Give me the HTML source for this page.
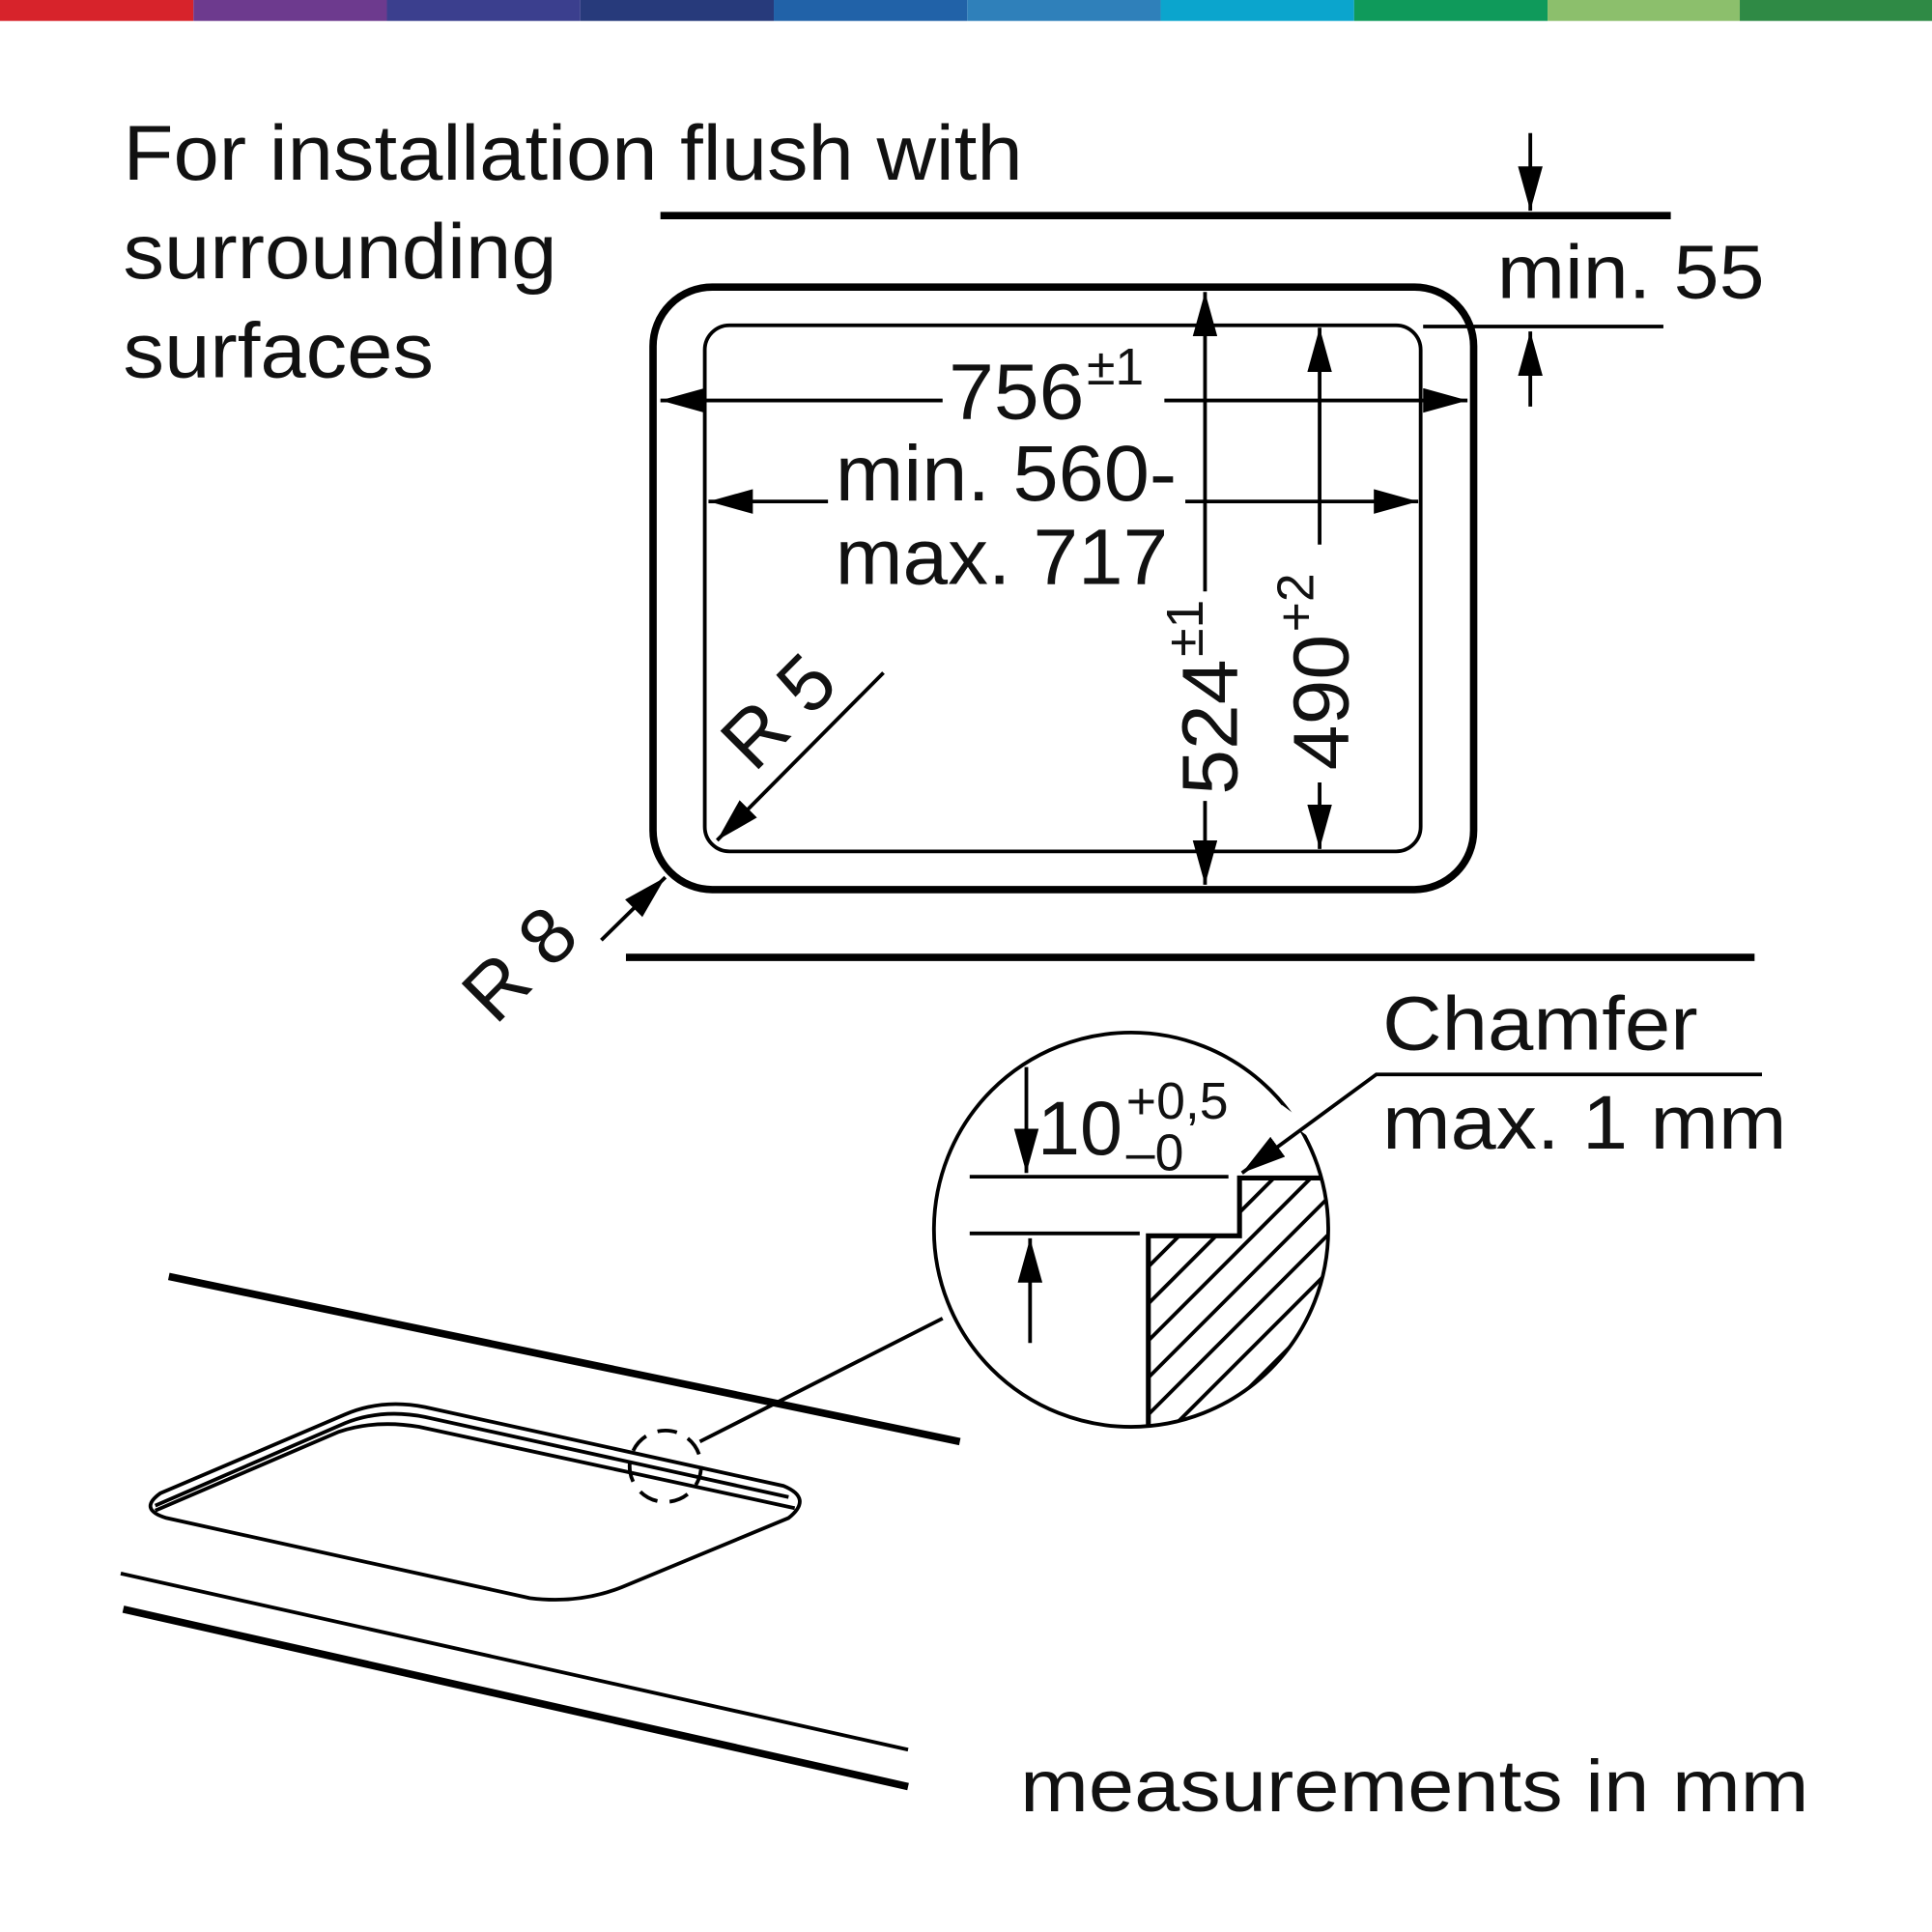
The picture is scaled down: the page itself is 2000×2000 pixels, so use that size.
<!DOCTYPE html>
<html><head><meta charset="utf-8"><style>
html,body{margin:0;padding:0;background:#fff}
svg{display:block}
text{font-family:"Liberation Sans",Arial,sans-serif;fill:#111}
</style></head><body>
<svg width="2000" height="2000" viewBox="0 0 1568 1568" xmlns="http://www.w3.org/2000/svg">
<defs>
<marker id="b" viewBox="0 0 36 20" refX="36" refY="10" markerWidth="36" markerHeight="20" markerUnits="userSpaceOnUse" orient="auto-start-reverse">
<path d="M0,0 L36,10 L0,20 Z" fill="#000"/></marker>
<clipPath id="c"><circle cx="918" cy="998" r="160"/></clipPath>
<clipPath id="h"><path d="M932,1003 L1006,1003 L1006,956 L1100,956 L1100,1200 L932,1200 Z"/></clipPath>
</defs>
<rect x="0" y="0" width="157" height="17" fill="#d7232b"/>
<rect x="157" y="0" width="157" height="17" fill="#6d3a8e"/>
<rect x="314" y="0" width="157" height="17" fill="#3b3f8e"/>
<rect x="471" y="0" width="157" height="17" fill="#273a7b"/>
<rect x="628" y="0" width="157" height="17" fill="#2162a8"/>
<rect x="785" y="0" width="157" height="17" fill="#2f80ba"/>
<rect x="942" y="0" width="157" height="17" fill="#0ba5cd"/>
<rect x="1099" y="0" width="157" height="17" fill="#0f9a5b"/>
<rect x="1256" y="0" width="156" height="17" fill="#8cbf6c"/>
<rect x="1412" y="0" width="156" height="17" fill="#2f8a45"/>

<text x="100" y="146" font-size="63" textLength="730" lengthAdjust="spacingAndGlyphs">For installation flush with</text>
<text x="100" y="226" font-size="63" textLength="352" lengthAdjust="spacingAndGlyphs">surrounding</text>
<text x="100" y="306" font-size="63" textLength="252" lengthAdjust="spacingAndGlyphs">surfaces</text>

<g stroke="#000" fill="none">
<line x1="536" y1="175" x2="1356" y2="175" stroke-width="6"/>
<line x1="508" y1="777" x2="1424" y2="777" stroke-width="6"/>
<rect x="530" y="233" width="666" height="489" rx="48" stroke-width="6"/>
<rect x="572" y="264" width="581" height="427" rx="20" stroke-width="3"/>
<line x1="536" y1="325" x2="765" y2="325" stroke-width="3" marker-start="url(#b)"/>
<line x1="945" y1="325" x2="1191" y2="325" stroke-width="3" marker-end="url(#b)"/>
<line x1="575" y1="407" x2="672" y2="407" stroke-width="3" marker-start="url(#b)"/>
<line x1="962" y1="407" x2="1151" y2="407" stroke-width="3" marker-end="url(#b)"/>
<line x1="978" y1="237" x2="978" y2="480" stroke-width="3" marker-start="url(#b)"/>
<line x1="978" y1="650" x2="978" y2="718" stroke-width="3" marker-end="url(#b)"/>
<line x1="1071" y1="266" x2="1071" y2="442" stroke-width="3" marker-start="url(#b)"/>
<line x1="1071" y1="635" x2="1071" y2="689" stroke-width="3" marker-end="url(#b)"/>
<line x1="1242" y1="108" x2="1242" y2="171" stroke-width="3" marker-end="url(#b)"/>
<line x1="1155" y1="265" x2="1350" y2="265" stroke-width="3"/>
<line x1="1242" y1="330" x2="1242" y2="269" stroke-width="3" marker-end="url(#b)"/>
<line x1="717" y1="546" x2="582" y2="682" stroke-width="3" marker-end="url(#b)"/>
<line x1="488" y1="763" x2="540" y2="712" stroke-width="3" marker-end="url(#b)"/>
</g>
<text x="770" y="340" font-size="64" textLength="110" lengthAdjust="spacingAndGlyphs">756</text><text x="882" y="312" font-size="42">±1</text>
<text x="678" y="406" font-size="64" textLength="277" lengthAdjust="spacingAndGlyphs">min. 560-</text>
<text x="678" y="474" font-size="64" textLength="270" lengthAdjust="spacingAndGlyphs">max. 717</text>
<text x="1215" y="242" font-size="62" textLength="217" lengthAdjust="spacingAndGlyphs">min. 55</text>
<g transform="translate(1004,645) rotate(-90)"><text x="0" y="0" font-size="64" textLength="110" lengthAdjust="spacingAndGlyphs">524</text><text x="112" y="-28" font-size="42">±1</text></g>
<g transform="translate(1094,625) rotate(-90)"><text x="0" y="0" font-size="64" textLength="110" lengthAdjust="spacingAndGlyphs">490</text><text x="112" y="-28" font-size="42">+2</text></g>
<g transform="translate(612,628) rotate(-45)"><text x="0" y="0" font-size="64">R 5</text></g>
<g transform="translate(402,833) rotate(-45)"><text x="0" y="0" font-size="64">R 8</text></g>

<g clip-path="url(#c)"><g clip-path="url(#h)" stroke="#000" stroke-width="3">
<line x1="700" y1="1200" x2="1000" y2="900"/>
<line x1="730" y1="1200" x2="1030" y2="900"/>
<line x1="760" y1="1200" x2="1060" y2="900"/>
<line x1="790" y1="1200" x2="1090" y2="900"/>
<line x1="820" y1="1200" x2="1120" y2="900"/>
<line x1="850" y1="1200" x2="1150" y2="900"/>
<line x1="880" y1="1200" x2="1180" y2="900"/>
<line x1="910" y1="1200" x2="1210" y2="900"/>
<line x1="940" y1="1200" x2="1240" y2="900"/>
<line x1="970" y1="1200" x2="1270" y2="900"/>
<line x1="1000" y1="1200" x2="1300" y2="900"/>
<line x1="1030" y1="1200" x2="1330" y2="900"/>
<line x1="1060" y1="1200" x2="1360" y2="900"/>
</g>
<path d="M932,1160 L932,1003 L1006,1003 L1006,956 L1090,956" stroke="#000" stroke-width="4" fill="none"/>
</g>
<g stroke="#000" fill="none">
<circle cx="918" cy="998" r="160" stroke-width="3"/>
<line x1="1038" y1="900" x2="1068" y2="922" stroke="#fff" stroke-width="8"/>
<line x1="787" y1="955" x2="997" y2="955" stroke-width="3"/>
<line x1="787" y1="1001" x2="925" y2="1001" stroke-width="3"/>
<line x1="833" y1="866" x2="833" y2="952" stroke-width="3" marker-end="url(#b)"/>
<line x1="836" y1="1090" x2="836" y2="1005" stroke-width="3" marker-end="url(#b)"/>
<polyline points="1430,872 1117,872 1008,952" stroke-width="3" marker-end="url(#b)"/>
<line x1="765" y1="1070" x2="568" y2="1170" stroke-width="3"/>
<circle cx="540" cy="1190" r="29" stroke-width="3" stroke-dasharray="16,10"/>
<line x1="137" y1="1036" x2="779" y2="1170" stroke-width="6"/>
<line x1="98" y1="1277" x2="737" y2="1420" stroke-width="3"/>
<line x1="100" y1="1306" x2="737" y2="1450" stroke-width="6"/>
<path d="M130,1212 L280,1148 Q310,1135 345,1142 L636,1206 Q660,1216 640,1232 L505,1288 Q470,1302 430,1297 L135,1232 Q112,1225 130,1212 Z" stroke-width="3"/>
<path d="M126,1222 L280,1155 Q310,1143 345,1150 L640,1215" stroke-width="3"/>
<path d="M126,1226 L275,1162 Q305,1152 340,1158 L645,1224" stroke-width="3"/>
</g>
<text x="842" y="937" font-size="62">10</text>
<text x="914" y="908" font-size="42">+0,5</text>
<text x="914" y="950" font-size="42">–0</text>
<text x="1122" y="852" font-size="62" textLength="256" lengthAdjust="spacingAndGlyphs">Chamfer</text>
<text x="1122" y="932" font-size="62" textLength="328" lengthAdjust="spacingAndGlyphs">max. 1 mm</text>
<text x="828" y="1470" font-size="60" textLength="640" lengthAdjust="spacingAndGlyphs">measurements in mm</text>
</svg>
</body></html>
